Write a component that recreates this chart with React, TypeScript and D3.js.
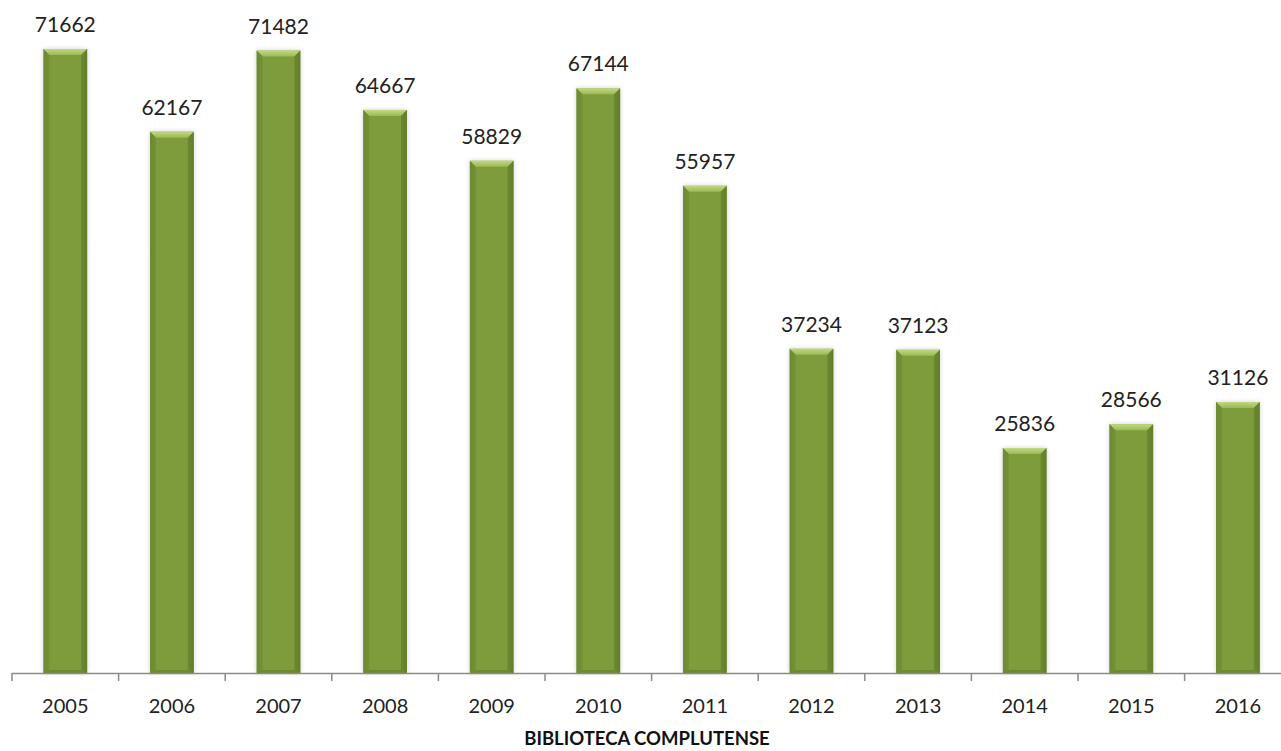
import React from "react";
import * as d3 from "d3";

const years = ["2005","2006","2007","2008","2009","2010","2011","2012","2013","2014","2015","2016"];
const values = [71662,62167,71482,64667,58829,67144,55957,37234,37123,25836,28566,31126];
const title = "BIBLIOTECA COMPLUTENSE";

const W = 1281, H = 751;

export default function App() {
  const x = d3.scaleBand<string>().domain(years).range([12, 12 + 106.6 * 12]).paddingInner(0.59).paddingOuter(0.295);
  const y = d3.scaleLinear().domain([0, 71662]).range([673, 49]);
  const bw = x.bandwidth();
  const bev = 6;
  const font = "Lato, 'Open Sans', sans-serif";
  const ticks = d3.range(0, years.length + 1).map(i => 12 + 106.6 * i);
  return (
    <svg width={W} height={H} style={{ position: "absolute", left: 0, top: 0, background: "#fff" }}>
      <defs>
        <linearGradient id="body" x1="0" x2="1" y1="0" y2="0">
          <stop offset="0" stopColor="#6f8c33" />
          <stop offset="0.12" stopColor="#7f9c3d" />
          <stop offset="0.88" stopColor="#7f9c3d" />
          <stop offset="1" stopColor="#6a8630" />
        </linearGradient>
        <linearGradient id="top" x1="0" x2="0" y1="0" y2="1">
          <stop offset="0" stopColor="#c2d883" />
          <stop offset="1" stopColor="#9aba52" />
        </linearGradient>
        <filter id="sh" x="-30%" y="-10%" width="160%" height="120%">
          <feGaussianBlur in="SourceAlpha" stdDeviation="2.5" />
          <feComponentTransfer><feFuncA type="linear" slope="0.18" /></feComponentTransfer>
          <feMerge><feMergeNode /><feMergeNode in="SourceGraphic" /></feMerge>
        </filter>
      </defs>
      {years.map((yr, i) => {
        const x0 = x(yr)!;
        const y0 = y(values[i]);
        const y1 = y(0);
        return (
          <g key={yr}>
            <g filter="url(#sh)">
              <rect x={x0} y={y0} width={bw} height={y1 - y0} fill="url(#body)" />
              <polygon points={`${x0},${y0} ${x0 + bw},${y0} ${x0 + bw - bev},${y0 + bev} ${x0 + bev},${y0 + bev}`} fill="url(#top)" />
              <polygon points={`${x0},${y0} ${x0 + bev},${y0 + bev} ${x0 + bev},${y1 - 3} ${x0},${y1}`} fill="#6b8830" opacity={0.6} />
              <polygon points={`${x0 + bw},${y0} ${x0 + bw - bev},${y0 + bev} ${x0 + bw - bev},${y1 - 3} ${x0 + bw},${y1}`} fill="#5e7a28" opacity={0.6} />
              <polygon points={`${x0},${y1} ${x0 + bev},${y1 - 3} ${x0 + bw - bev},${y1 - 3} ${x0 + bw},${y1}`} fill="#66822e" opacity={0.7} />
            </g>
            <text x={x0 + bw / 2} y={y0 - 17} textAnchor="middle" fontFamily={font} fontSize={21} fill="#222">{values[i]}</text>
          </g>
        );
      })}
      <line x1={12} x2={W} y1={673.5} y2={673.5} stroke="#8a8a8a" strokeWidth={1.5} />
      {ticks.map((t, i) => (
        <line key={i} x1={t} x2={t} y1={673} y2={681} stroke="#8a8a8a" strokeWidth={1.5} />
      ))}
      {years.map(yr => (
        <text key={yr} x={x(yr)! + bw / 2} y={713} textAnchor="middle" fontFamily={font} fontSize={20} fill="#222">{yr}</text>
      ))}
      <text x={647} y={745} textAnchor="middle" fontFamily={font} fontSize={18.5} fontWeight="bold" fill="#111">{title}</text>
    </svg>
  );
}
